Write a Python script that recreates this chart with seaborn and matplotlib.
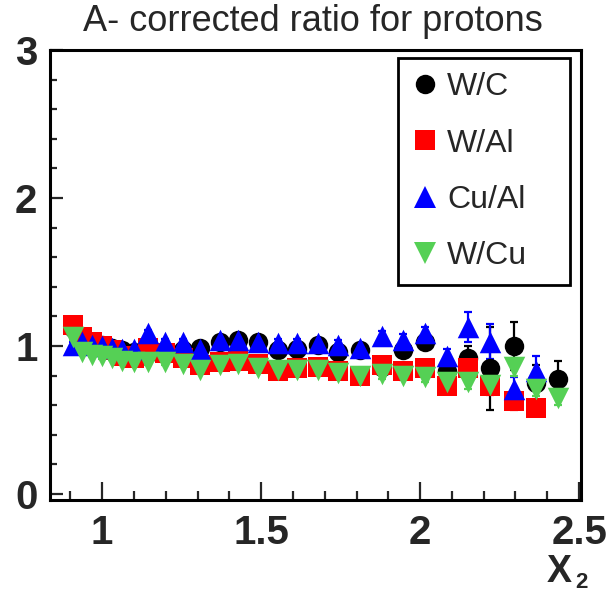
import numpy as np
import pandas as pd
import seaborn as sns
import matplotlib.pyplot as plt
from matplotlib.lines import Line2D
from matplotlib.ticker import MultipleLocator, FormatStrFormatter

# x2 bin centres
x2 = [0.909, 0.937, 0.969, 1.0, 1.031, 1.063, 1.101, 1.145, 1.198, 1.255,
      1.308, 1.371, 1.428, 1.491, 1.553, 1.613, 1.679, 1.742, 1.811, 1.881,
      1.947, 2.016, 2.085, 2.151, 2.220, 2.296, 2.365, 2.434]

w_c = [1.12, 1.05, 1.03, 1.01, 0.99, 0.97, 0.96, 0.95, 0.95, 0.97,
       0.99, 1.03, 1.04, 1.03, 0.97, 0.98, 1.01, 0.96, 0.97, 0.86,
       0.97, 1.03, 0.83, 0.92, 0.85, 1.00, 0.75, 0.78]
w_c_err = [0.02, 0.02, 0.015, 0.015, 0.015, 0.015, 0.015, 0.015, 0.015, 0.02,
           0.02, 0.02, 0.02, 0.02, 0.025, 0.025, 0.03, 0.03, 0.03, 0.035,
           0.04, 0.05, 0.06, 0.08, 0.28, 0.16, 0.12, 0.12]

w_al = [1.14, 1.06, 1.03, 1.00, 0.97, 0.93, 0.92, 0.99, 0.95, 0.92,
        0.87, 0.89, 0.90, 0.88, 0.83, 0.85, 0.86, 0.83, 0.80, 0.87,
        0.83, 0.85, 0.73, 0.85, 0.73, 0.63, 0.58]
w_al_err = [0.02, 0.015, 0.015, 0.015, 0.015, 0.015, 0.015, 0.015, 0.015, 0.015,
            0.02, 0.02, 0.02, 0.02, 0.02, 0.025, 0.025, 0.025, 0.03, 0.03,
            0.03, 0.04, 0.04, 0.05, 0.06, 0.06, 0.05]

cu_al = [1.01, 1.03, 1.01, 1.00, 0.99, 0.98, 0.98, 1.09, 1.03, 1.03,
         0.98, 1.04, 1.04, 1.03, 1.02, 1.02, 1.02, 1.01, 0.99, 1.07,
         1.04, 1.09, 0.93, 1.13, 1.03, 0.71, 0.83]
cu_al_err = [0.02, 0.015, 0.015, 0.015, 0.015, 0.015, 0.015, 0.02, 0.02, 0.02,
             0.02, 0.02, 0.02, 0.02, 0.025, 0.025, 0.025, 0.03, 0.03, 0.035,
             0.04, 0.04, 0.05, 0.10, 0.12, 0.08, 0.10]

w_cu = [1.06, 0.96, 0.94, 0.93, 0.92, 0.90, 0.89, 0.89, 0.89, 0.88,
        0.84, 0.87, 0.88, 0.85, 0.84, 0.84, 0.84, 0.82, 0.80, 0.81,
        0.80, 0.79, 0.76, 0.76, 0.74, 0.86, 0.71, 0.65]
w_cu_err = [0.02, 0.015, 0.015, 0.015, 0.015, 0.015, 0.015, 0.015, 0.015, 0.015,
            0.02, 0.02, 0.02, 0.02, 0.02, 0.02, 0.025, 0.025, 0.025, 0.03,
            0.03, 0.03, 0.04, 0.05, 0.05, 0.06, 0.05, 0.05]

labels = ["W/C", "W/Al", "Cu/Al", "W/Cu"]
colors = ["black", "#ff0000", "#0000ff", "#55d055"]
markers = ["o", "s", "^", "v"]
sizes = [14, 14.5, 15.5, 15.5]

sns.set_style("ticks")
plt.rcParams["font.family"] = ["Liberation Sans", "DejaVu Sans"]

fig = plt.figure(figsize=(6.09, 5.92), dpi=100)
ax = fig.add_axes([50 / 609, 92 / 592, 531 / 609, 450 / 592])

series = [(w_c, w_c_err), (w_al, w_al_err), (cu_al, cu_al_err), (w_cu, w_cu_err)]
for (vals, errs), lab, col, mk, ms in zip(series, labels, colors, markers, sizes):
    df = pd.DataFrame({"x2": x2[:len(vals)], "ratio": vals, "err": errs})
    ax.errorbar(df["x2"], df["ratio"], yerr=df["err"], fmt="none",
                ecolor=col, elinewidth=1.6, capsize=3, capthick=1.6, zorder=2)
    sns.scatterplot(data=df, x="x2", y="ratio", ax=ax, color=col, marker=mk,
                    s=ms ** 2, linewidth=0, zorder=3, legend=False)

ax.set_xlim(0.836, 2.506)
ax.set_ylim(-0.04, 3.0)
ax.set_xlabel("")
ax.set_ylabel("")

ax.xaxis.set_major_locator(MultipleLocator(0.5))
ax.xaxis.set_minor_locator(MultipleLocator(0.1))
ax.yaxis.set_major_locator(MultipleLocator(1))
ax.yaxis.set_minor_locator(MultipleLocator(0.2))
ax.xaxis.set_major_formatter(FormatStrFormatter("%g"))
ax.yaxis.set_major_formatter(FormatStrFormatter("%g"))
ax.tick_params(axis="x", which="major", direction="in", length=13, width=1.6,
               labelsize=29, pad=10)
ax.tick_params(axis="x", which="minor", direction="in", length=6.5, width=1.6)
ax.tick_params(axis="y", which="major", direction="in", length=9.5, width=1.6,
               labelsize=29, pad=9)
ax.tick_params(axis="y", which="minor", direction="in", length=5, width=1.6)
for lab in ax.get_xticklabels() + ax.get_yticklabels():
    lab.set_fontweight("bold")
for sp in ax.spines.values():
    sp.set_linewidth(2.2)
    sp.set_color("black")

handles = [Line2D([], [], linestyle="none", marker=mk, color=col, markersize=ms,
                  markeredgewidth=0)
           for col, mk, ms in zip(colors, markers, sizes)]
leg = ax.legend(handles, labels, loc="upper left",
                bbox_to_anchor=(0.655, 0.484, 0.324, 0.498), mode="expand",
                fontsize=23, frameon=True, fancybox=False, edgecolor="black",
                framealpha=1, labelspacing=0.82, handlelength=0.8,
                handletextpad=0.3, borderpad=0.45, borderaxespad=0)
leg.get_frame().set_linewidth(2)

fig.text(0.513, 0.963, "A- corrected ratio for protons", fontsize=26,
         ha="center", va="center")
fig.text(0.918, 0.034, "X", fontsize=27, fontweight="bold", ha="center",
         va="center")
fig.text(0.955, 0.016, "2", fontsize=16, fontweight="bold", ha="center",
         va="center")

fig.savefig("out.png", dpi=100)
